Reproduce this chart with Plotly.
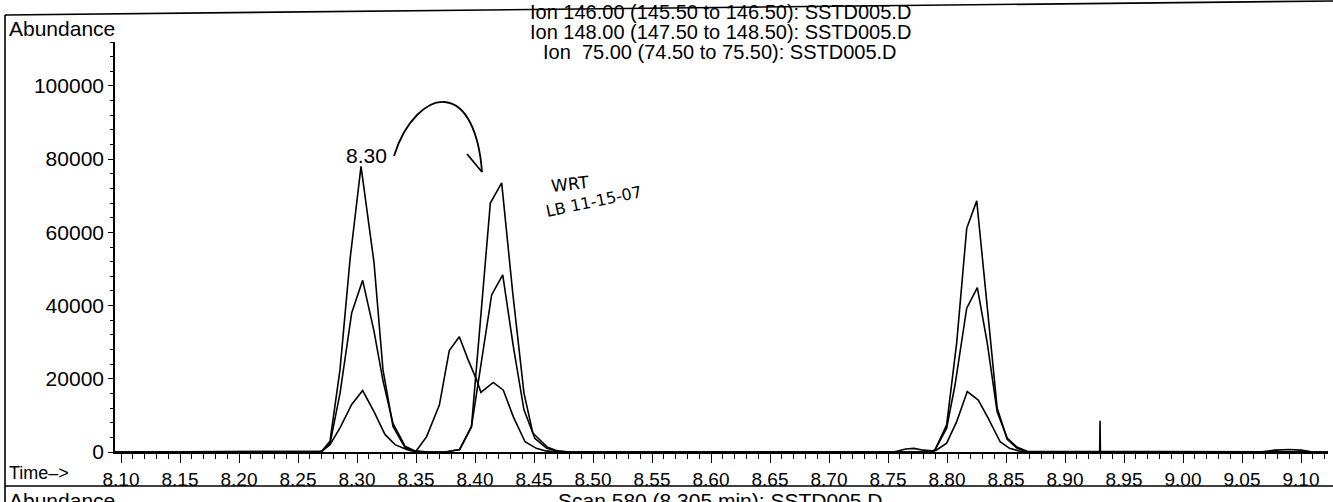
import plotly.graph_objects as go

# ---------------- data ----------------
t_ion146 = [8.095, 8.268, 8.2703, 8.2771, 8.2856, 8.2941, 8.3034, 8.3144, 8.3220, 8.3305,
            8.3407, 8.3492, 8.360, 8.375, 8.387, 8.397, 8.413, 8.4226, 8.432, 8.4415,
            8.449, 8.461, 8.470, 8.480, 8.755, 8.765, 8.772, 8.780, 8.787, 8.7898,
            8.7997, 8.8082, 8.8167, 8.8252, 8.834, 8.8425, 8.851, 8.8595, 8.868,
            9.065, 9.078, 9.090, 9.100, 9.110, 9.123]
y_ion146 = [0, 0, 300, 2900, 22500, 52600, 78000, 51800, 22500, 7000,
            1200, 200, 0, 0, 700, 6900, 68000, 73500, 43400, 16100,
            5200, 1400, 300, 0, 0, 800, 1000, 500, 300, 550,
            7400, 29800, 61100, 68600, 40000, 12000, 3500, 1000, 0,
            0, 500, 700, 500, 0, 0]

t_ion148 = [8.095, 8.268, 8.2703, 8.2771, 8.2856, 8.2955, 8.3048, 8.3144, 8.3220, 8.3305,
            8.3407, 8.3492, 8.360, 8.375, 8.387, 8.397, 8.4141, 8.4235, 8.4325, 8.4415,
            8.4508, 8.4608, 8.470, 8.480, 8.787, 8.7898, 8.7997, 8.8068, 8.8167, 8.8257,
            8.834, 8.8425, 8.851, 8.8595, 8.868, 9.123]
y_ion148 = [0, 0, 200, 2200, 16000, 38000, 46900, 33000, 19500, 7800,
            1600, 300, 0, 0, 700, 6900, 42900, 48400, 28800, 11500,
            3700, 1000, 200, 0, 0, 550, 6500, 18300, 39300, 44900,
            30000, 11000, 3800, 1300, 200, 0]

t_ion75 = [8.095, 8.268, 8.2701, 8.2771, 8.2856, 8.2955, 8.3048, 8.3144, 8.3237, 8.3322,
           8.3421, 8.3497, 8.3506, 8.359, 8.3698, 8.3782, 8.3867, 8.3943, 8.4014, 8.405,
           8.4155, 8.424, 8.4325, 8.4424, 8.452, 8.460, 8.470, 8.787, 8.7912, 8.7997,
           8.8082, 8.8172, 8.8265, 8.835, 8.845, 8.853, 8.862, 8.870, 8.9294, 8.9297,
           8.9300, 9.123]
y_ion75 = [0, 0, 200, 2000, 6600, 13000, 16800, 11000, 4800, 2000,
           700, 0, 500, 4200, 12800, 27700, 31500, 25100, 19700, 16300,
           19000, 16900, 9600, 2800, 1000, 300, 0, 0, 550, 2400,
           8300, 16500, 14200, 9200, 2800, 1000, 200, 0, 0, 8500,
           0, 0]

x_tick_vals = [8.10, 8.15, 8.20, 8.25, 8.30, 8.35, 8.40, 8.45, 8.50, 8.55, 8.60,
               8.65, 8.70, 8.75, 8.80, 8.85, 8.90, 8.95, 9.00, 9.05, 9.10]
x_tick_text = ["8.10", "8.15", "8.20", "8.25", "8.30", "8.35", "8.40", "8.45", "8.50", "8.55", "8.60",
               "8.65", "8.70", "8.75", "8.80", "8.85", "8.90", "8.95", "9.00", "9.05", "9.10"]
y_tick_vals = [0, 20000, 40000, 60000, 80000, 100000]
y_tick_text = ["0", "20000", "40000", "60000", "80000", "100000"]

title_lines = ["Ion 146.00 (145.50 to 146.50): SSTD005.D",
               "Ion 148.00 (147.50 to 148.50): SSTD005.D",
               "Ion \u00a075.00 (74.50 to 75.50): SSTD005.D"]
peak_label = "8.30"
scan_text = "Scan 580 (8.305 min): SSTD005.D"
note_lines = ["WRT", "LB 11-15-07"]

# ---------------- layout geometry (pixels) ----------------
W_PAGE, H_PAGE = 1333, 502
L, T = 115, 42
PW, PH = 1213, 410


def pp(px, py):
    return (px - L) / PW, (T + PH - py) / PH


FONT = "Liberation Sans, Arial, sans-serif"
LINE = dict(color="black", width=1.6)

fig = go.Figure()
for name, tx, ty in [("Ion 146.00", t_ion146, y_ion146),
                     ("Ion 148.00", t_ion148, y_ion148),
                     ("Ion 75.00", t_ion75, y_ion75)]:
    fig.add_trace(go.Scatter(x=tx, y=ty, mode="lines", name=name,
                             line=LINE, showlegend=False, hoverinfo="x+y+name"))

annotations = []


def text(px, py, s, size, xanchor="center", yanchor="middle", angle=0, family=FONT):
    x, y = pp(px, py)
    annotations.append(dict(x=x, y=y, xref="paper", yref="paper", text=s, showarrow=False,
                            xanchor=xanchor, yanchor=yanchor, textangle=angle,
                            font=dict(family=family, size=size, color="black")))


for i, s in enumerate(title_lines):
    text(720, 12 + 20 * i, s, 20)
text(7, 29, "Abundance", 21, xanchor="left")
text(366, 155, peak_label, 21)
text(7, 473, "Time\u2013>", 18, xanchor="left")
text(556, 487, scan_text, 21, xanchor="left", yanchor="top")
text(7, 487, "Abundance", 21, xanchor="left", yanchor="top")
text(570, 184, note_lines[0], 17, angle=-6, family="DejaVu Sans, sans-serif")
text(594, 201, note_lines[1], 16, angle=-12, family="DejaVu Sans, sans-serif")

shapes = []


def seg(p0, p1, w=1.5):
    x0, y0 = pp(*p0)
    x1, y1 = pp(*p1)
    shapes.append(dict(type="line", xref="paper", yref="paper", x0=x0, y0=y0, x1=x1, y1=y1,
                       line=dict(color="black", width=w)))


def path(pts_cmd, w=1.8):
    parts = []
    for cmd, pts in pts_cmd:
        coords = " ".join("%.5f,%.5f" % pp(*p) for p in pts)
        parts.append(cmd + " " + coords)
    shapes.append(dict(type="path", xref="paper", yref="paper", path=" ".join(parts),
                       line=dict(color="black", width=w)))


# page frame lines
seg((5, 15), (1333, 1), 1.6)
seg((5, 15), (5, 502), 1.6)
seg((5, 486), (1333, 486), 1.6)
# hand-drawn curved arrow
path([("M", [(394, 156)]),
      ("C", [(405, 120), (428, 100), (445, 102)]),
      ("C", [(466, 104), (479, 132), (482, 172)])], 1.8)
path([("M", [(467, 154)]), ("L", [(482, 172), (495, 147)])], 1.8)

fig.update_layout(
    width=W_PAGE, height=H_PAGE, autosize=False,
    margin=dict(l=L, r=W_PAGE - L - PW, t=T, b=H_PAGE - T - PH, pad=0),
    paper_bgcolor="white", plot_bgcolor="white",
    annotations=annotations, shapes=shapes,
    xaxis=dict(range=[8.10 - 6 / 1180, 8.10 + 1207 / 1180], showgrid=False, zeroline=False,
               showline=True, linecolor="black", linewidth=1.6,
               ticks="outside", ticklen=9, tickwidth=1.4, tickcolor="black",
               tickmode="array", tickvals=x_tick_vals, ticktext=x_tick_text,
               tickfont=dict(family=FONT, size=19, color="black"),
               minor=dict(tickmode="linear", tick0=8.10, dtick=0.01, ticks="outside",
                          ticklen=5, tickwidth=1.2, tickcolor="black", showgrid=False)),
    yaxis=dict(range=[0, 112000], showgrid=False, zeroline=False,
               showline=True, linecolor="black", linewidth=1.6,
               ticks="outside", ticklen=5, tickwidth=1.4, tickcolor="black",
               tickmode="array", tickvals=y_tick_vals, ticktext=y_tick_text,
               tickfont=dict(family=FONT, size=21, color="black"),
               minor=dict(tickmode="linear", tick0=0, dtick=4000, ticks="outside",
                          ticklen=3, tickwidth=1.2, tickcolor="black", showgrid=False)),
)

fig.write_html("out.html", config={"displayModeBar": False},
               post_script="document.body.style.margin='0';")
